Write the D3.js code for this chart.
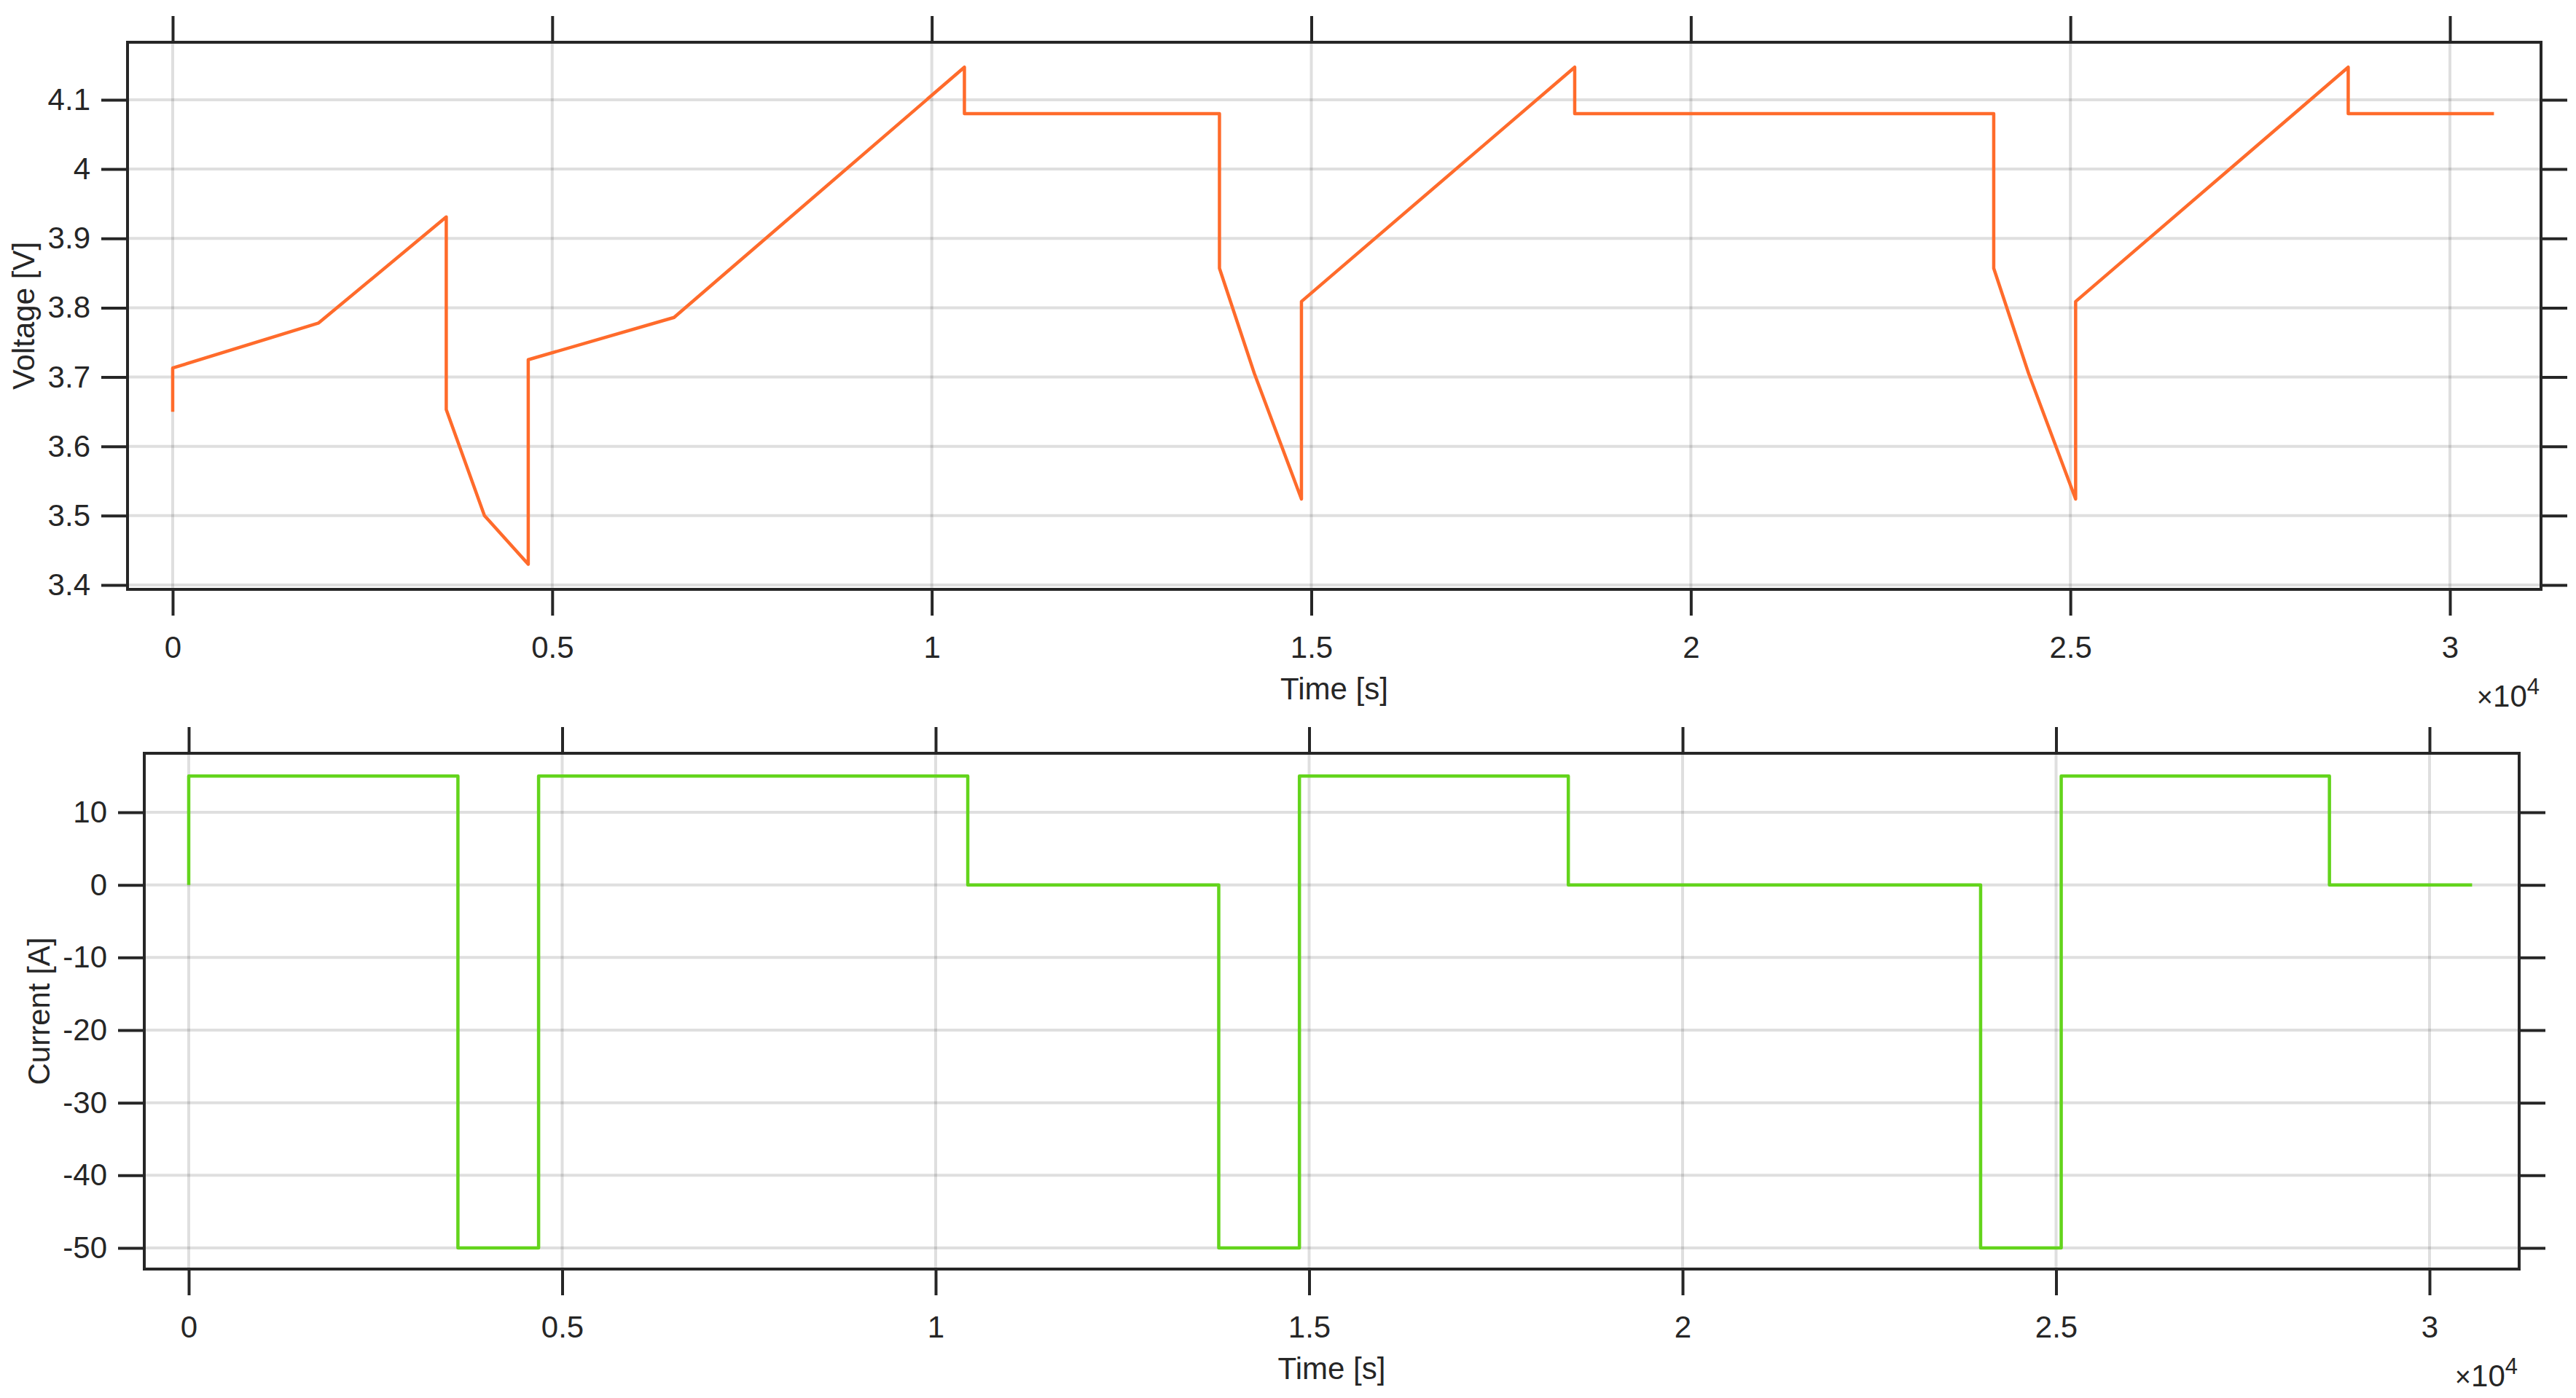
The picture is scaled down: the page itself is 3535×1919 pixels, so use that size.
<!DOCTYPE html>
<html>
<head>
<meta charset="utf-8">
<script src="https://cdn.jsdelivr.net/npm/d3@7"></script>
<style>
  html, body { margin: 0; padding: 0; background: #ffffff; }
  svg { display: block; }
  text { font-family: "Liberation Sans", Arial, Helvetica, sans-serif; fill: #262626; }
</style>
</head>
<body>
<script>
// ---------------- data (time in seconds) ----------------
const voltageTime = [0, 0, 1923, 3604, 3604, 4107, 4684, 4684, 6605, 10430, 10430,
  13790, 13790, 14250, 14870, 14870, 18470, 18470,
  23990, 23990, 24450, 25069, 25069, 28660, 28660, 30580];
const voltageValues = [3.650, 3.713, 3.778, 3.931, 3.653, 3.500, 3.430, 3.725, 3.786, 4.147, 4.080,
  4.080, 3.857, 3.705, 3.524, 3.809, 4.147, 4.080,
  4.080, 3.857, 3.705, 3.524, 3.809, 4.147, 4.080, 4.080];

const currentTime = [0, 0, 3604, 3604, 4684, 4684, 10430, 10430, 13790, 13790, 14870, 14870,
  18470, 18470, 23990, 23990, 25069, 25069, 28660, 28660, 30570];
const currentValues = [0, 15, 15, -50, -50, 15, 15, 0, 0, -50, -50, 15,
  15, 0, 0, -50, -50, 15, 15, 0, 0];

const timeTicks = [0, 5000, 10000, 15000, 20000, 25000, 30000];
const timeTickLabels = ["0", "0.5", "1", "1.5", "2", "2.5", "3"];
const voltageTicks = [3.4, 3.5, 3.6, 3.7, 3.8, 3.9, 4.0, 4.1];
const voltageTickLabels = ["3.4", "3.5", "3.6", "3.7", "3.8", "3.9", "4", "4.1"];
const currentTicks = [-50, -40, -30, -20, -10, 0, 10];
const currentTickLabels = ["-50", "-40", "-30", "-20", "-10", "0", "10"];

const xLabel = "Time [s]";
const voltageLabel = "Voltage [V]";
const currentLabel = "Current [A]";

// ---------------- drawing ----------------
const W = 3535, H = 1919;
const INK = "#262626";
const svg = d3.select("body").append("svg").attr("width", W).attr("height", H);
svg.append("rect").attr("width", W).attr("height", H).attr("fill", "#ffffff");

function panel(cfg) {
  const g = svg.append("g");
  const x = d3.scaleLinear().domain(cfg.xDomain).range([cfg.left, cfg.right]);
  const y = d3.scaleLinear().domain(cfg.yDomain).range([cfg.bottom, cfg.top]);

  // grid
  const grid = g.append("g").attr("stroke", INK).attr("stroke-opacity", 0.15).attr("stroke-width", 4);
  grid.selectAll("line.gx").data(cfg.xTicks).enter().append("line")
    .attr("x1", d => x(d)).attr("x2", d => x(d)).attr("y1", cfg.top).attr("y2", cfg.bottom);
  grid.selectAll("line.gy").data(cfg.yTicks).enter().append("line")
    .attr("y1", d => y(d)).attr("y2", d => y(d)).attr("x1", cfg.left).attr("x2", cfg.right);

  // data line
  const pts = cfg.t.map((t, i) => [t, cfg.v[i]]);
  g.append("path").datum(pts)
    .attr("fill", "none").attr("stroke", cfg.color).attr("stroke-width", 4.5)
    .attr("stroke-linejoin", "round").attr("stroke-linecap", "butt")
    .attr("d", d3.line().x(d => x(d[0])).y(d => y(d[1])));

  // axes
  const TL = 36;
  const xf = d => cfg.xTickLabels[cfg.xTicks.indexOf(d)];
  const yf = d => cfg.yTickLabels[cfg.yTicks.indexOf(d)];
  const axes = [
    g.append("g").attr("transform", `translate(0,${cfg.bottom})`)
      .call(d3.axisBottom(x).tickValues(cfg.xTicks).tickFormat(xf).tickSize(TL).tickPadding(28)),
    g.append("g").attr("transform", `translate(0,${cfg.top})`)
      .call(d3.axisTop(x).tickValues(cfg.xTicks).tickFormat("").tickSize(TL)),
    g.append("g").attr("transform", `translate(${cfg.left},0)`)
      .call(d3.axisLeft(y).tickValues(cfg.yTicks).tickFormat(yf).tickSize(TL).tickPadding(15)),
    g.append("g").attr("transform", `translate(${cfg.right},0)`)
      .call(d3.axisRight(y).tickValues(cfg.yTicks).tickFormat("").tickSize(TL))
  ];
  axes.forEach(a => {
    a.select(".domain").remove();
    a.selectAll(".tick line").attr("stroke", INK).attr("stroke-width", 4);
    a.selectAll(".tick text").attr("fill", INK).style("font-size", "42px")
      .style("font-family", "'Liberation Sans', Arial, sans-serif");
  });

  // box
  g.append("rect").attr("x", cfg.left).attr("y", cfg.top)
    .attr("width", cfg.right - cfg.left).attr("height", cfg.bottom - cfg.top)
    .attr("fill", "none").attr("stroke", INK).attr("stroke-width", 4);

  // x label
  g.append("text").attr("x", (cfg.left + cfg.right) / 2).attr("y", cfg.bottom + 151)
    .attr("text-anchor", "middle").style("font-size", "42px").text(xLabel);

  // exponent label x10^4
  const ex = g.append("text").attr("x", cfg.right - 2).attr("y", cfg.bottom + 161)
    .attr("text-anchor", "end").style("font-size", "42px");
  ex.append("tspan").style("font-size", "38px").text("\u00D7");
  ex.append("tspan").text("10");
  ex.append("tspan").attr("dy", -17).style("font-size", "31px").text("4");

  // y label
  const cy = (cfg.top + cfg.bottom) / 2;
  g.append("text").attr("transform", `translate(${cfg.ylabelX},${cy}) rotate(-90)`)
    .attr("text-anchor", "middle").style("font-size", "42px").text(cfg.ylabel);
}

panel({
  left: 175, right: 3487, top: 58, bottom: 809,
  xDomain: [-595, 31200], yDomain: [3.3937, 4.183],
  xTicks: timeTicks, xTickLabels: timeTickLabels,
  yTicks: voltageTicks, yTickLabels: voltageTickLabels,
  t: voltageTime, v: voltageValues, color: "#ff6b2b",
  ylabel: voltageLabel, ylabelX: 47
});

panel({
  left: 198, right: 3457, top: 1034, bottom: 1742,
  xDomain: [-595, 31200], yDomain: [-52.91, 18.13],
  xTicks: timeTicks, xTickLabels: timeTickLabels,
  yTicks: currentTicks, yTickLabels: currentTickLabels,
  t: currentTime, v: currentValues, color: "#63d41c",
  ylabel: currentLabel, ylabelX: 68
});
</script>
</body>
</html>
